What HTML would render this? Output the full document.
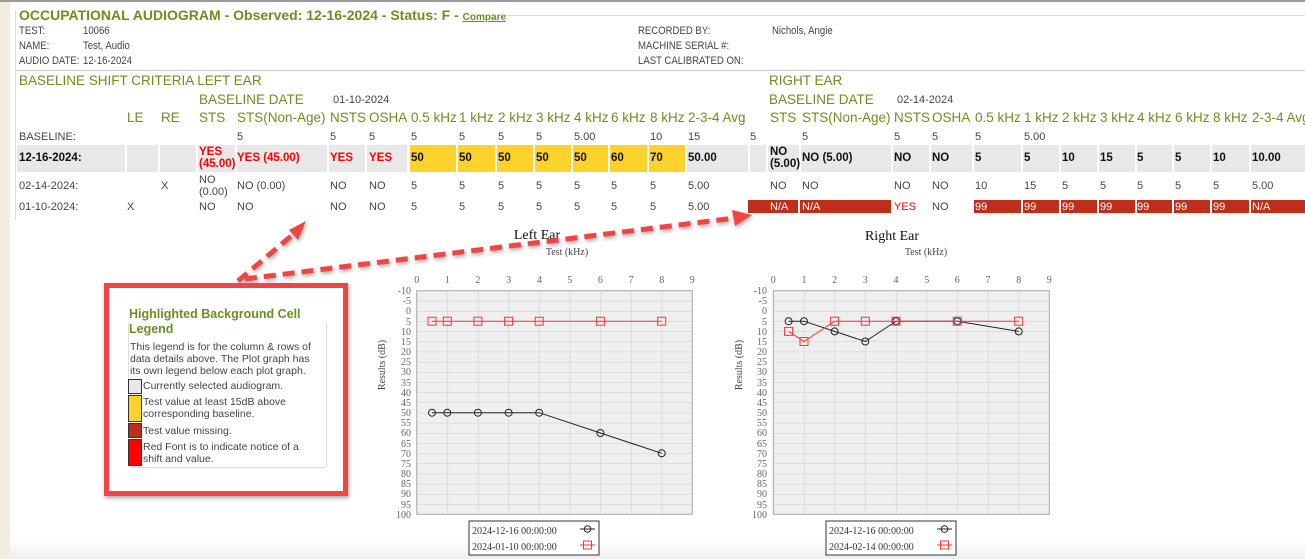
<!DOCTYPE html>
<html><head><meta charset="utf-8"><style>
body{margin:0;width:1305px;height:559px;overflow:hidden;background:#fff;position:relative;font-family:"Liberation Sans",sans-serif;color:#444;}
.t{position:absolute;white-space:nowrap;font-size:11px;line-height:13px;}
.n{transform:scaleX(0.87);transform-origin:left center;}
.g{color:#6a8f1f;font-size:13.5px;line-height:16px;}
.b{font-weight:bold;color:#111;font-size:11.5px;}
.r{color:#f00;}
.w{color:#fff;}
.c{position:absolute;}
</style></head><body>
<div class="c" style="left:0;top:0;width:10px;height:559px;background:#f3ede0"></div>
<div class="c" style="left:0;top:0;width:1305px;height:2px;background:#999"></div>
<div class="c" style="left:10px;top:540px;width:1295px;height:19px;background:linear-gradient(#fff,#eee)"></div>
<div class="c" style="left:505px;top:15px;width:800px;height:1px;background:#ddd"></div>
<div class="c" style="left:15px;top:70px;width:1290px;height:1px;background:#ccc"></div>
<div class="c" style="left:15px;top:10px;width:1px;height:210px;background:#ddd"></div>

<div class="t" style="left:19px;top:7px;font-size:14px;line-height:16px;font-weight:bold;color:#6a8f1f">OCCUPATIONAL AUDIOGRAM - Observed: 12-16-2024 - Status: F - <span style="font-size:10px;text-decoration:underline">Compare</span></div>
<div class="t n" style="left:19px;top:25px">TEST:</div><div class="t n" style="left:83px;top:25px">10066</div>
<div class="t n" style="left:19px;top:40px">NAME:</div><div class="t n" style="left:83px;top:40px">Test, Audio</div>
<div class="t n" style="left:19px;top:55px">AUDIO DATE:</div><div class="t n" style="left:83px;top:55px">12-16-2024</div>
<div class="t n" style="left:638px;top:25px">RECORDED BY:</div><div class="t n" style="left:772px;top:25px">Nichols, Angie</div>
<div class="t n" style="left:638px;top:40px">MACHINE SERIAL #:</div>
<div class="t n" style="left:638px;top:55px">LAST CALIBRATED ON:</div>

<div class="t g" style="left:19px;top:73px">BASELINE SHIFT CRITERIA LEFT EAR</div>
<div class="t g" style="left:769px;top:73px">RIGHT EAR</div>
<div class="t g" style="left:199px;top:92px">BASELINE DATE</div><div class="t" style="left:333px;top:94px">01-10-2024</div>
<div class="t g" style="left:769px;top:92px">BASELINE DATE</div><div class="t" style="left:897px;top:94px">02-14-2024</div>

<div class="t g" style="left:127px;top:110px">LE</div><div class="t g" style="left:161px;top:110px">RE</div>
<div class="t g" style="left:199px;top:110px">STS</div><div class="t g" style="left:237px;top:110px">STS(Non-Age)</div>
<div class="t g" style="left:330px;top:110px">NSTS</div><div class="t g" style="left:369px;top:110px">OSHA</div>
<div class="t g" style="left:411px;top:110px">0.5 kHz</div><div class="t g" style="left:459px;top:110px">1 kHz</div>
<div class="t g" style="left:498px;top:110px">2 kHz</div><div class="t g" style="left:536px;top:110px">3 kHz</div>
<div class="t g" style="left:574px;top:110px">4 kHz</div><div class="t g" style="left:611px;top:110px">6 kHz</div>
<div class="t g" style="left:650px;top:110px">8 kHz</div><div class="t g" style="left:688px;top:110px">2-3-4 Avg</div>
<div class="t g" style="left:770px;top:110px">STS</div><div class="t g" style="left:802px;top:110px">STS(Non-Age)</div>
<div class="t g" style="left:894px;top:110px">NSTS</div><div class="t g" style="left:932px;top:110px">OSHA</div>
<div class="t g" style="left:975px;top:110px">0.5 kHz</div><div class="t g" style="left:1024px;top:110px">1 kHz</div>
<div class="t g" style="left:1062px;top:110px">2 kHz</div><div class="t g" style="left:1100px;top:110px">3 kHz</div>
<div class="t g" style="left:1137px;top:110px">4 kHz</div><div class="t g" style="left:1175px;top:110px">6 kHz</div>
<div class="t g" style="left:1213px;top:110px">8 kHz</div><div class="t g" style="left:1252px;top:110px">2-3-4 Avg</div>

<div class="t" style="left:19px;top:131px">BASELINE:</div>
<div class="t" style="left:237px;top:131px">5</div><div class="t" style="left:330px;top:131px">5</div><div class="t" style="left:369px;top:131px">5</div>
<div class="t" style="left:411px;top:131px">5</div><div class="t" style="left:459px;top:131px">5</div><div class="t" style="left:498px;top:131px">5</div>
<div class="t" style="left:536px;top:131px">5</div><div class="t" style="left:574px;top:131px">5.00</div>
<div class="t" style="left:650px;top:131px">10</div><div class="t" style="left:688px;top:131px">15</div><div class="t" style="left:750px;top:131px">5</div>
<div class="t" style="left:802px;top:131px">5</div><div class="t" style="left:894px;top:131px">5</div><div class="t" style="left:932px;top:131px">5</div>
<div class="t" style="left:975px;top:131px">5</div><div class="t" style="left:1024px;top:131px">5.00</div>

<div class="c" style="top:145px;height:27px;left:17px;width:108px;background:#e8e8e8"></div>
<div class="c" style="top:145px;height:27px;left:127px;width:31px;background:#e8e8e8"></div>
<div class="c" style="top:145px;height:27px;left:160px;width:36px;background:#e8e8e8"></div>
<div class="c" style="top:145px;height:27px;left:198px;width:37px;background:#e8e8e8"></div>
<div class="c" style="top:145px;height:27px;left:237px;width:90px;background:#e8e8e8"></div>
<div class="c" style="top:145px;height:27px;left:329px;width:36px;background:#e8e8e8"></div>
<div class="c" style="top:145px;height:27px;left:367px;width:40px;background:#e8e8e8"></div>
<div class="c" style="top:145px;height:27px;left:410px;width:46px;background:#fdd22c"></div>
<div class="c" style="top:145px;height:27px;left:458px;width:37px;background:#fdd22c"></div>
<div class="c" style="top:145px;height:27px;left:497px;width:36px;background:#fdd22c"></div>
<div class="c" style="top:145px;height:27px;left:535px;width:36px;background:#fdd22c"></div>
<div class="c" style="top:145px;height:27px;left:573px;width:35px;background:#fdd22c"></div>
<div class="c" style="top:145px;height:27px;left:610px;width:37px;background:#fdd22c"></div>
<div class="c" style="top:145px;height:27px;left:649px;width:36px;background:#fdd22c"></div>
<div class="c" style="top:145px;height:27px;left:687px;width:61px;background:#e8e8e8"></div>
<div class="c" style="top:145px;height:27px;left:750px;width:16px;background:#e8e8e8"></div>
<div class="c" style="top:145px;height:27px;left:768px;width:31px;background:#e8e8e8"></div>
<div class="c" style="top:145px;height:27px;left:801px;width:90px;background:#e8e8e8"></div>
<div class="c" style="top:145px;height:27px;left:893px;width:36px;background:#e8e8e8"></div>
<div class="c" style="top:145px;height:27px;left:931px;width:41px;background:#e8e8e8"></div>
<div class="c" style="top:145px;height:27px;left:974px;width:47px;background:#e8e8e8"></div>
<div class="c" style="top:145px;height:27px;left:1023px;width:36px;background:#e8e8e8"></div>
<div class="c" style="top:145px;height:27px;left:1061px;width:36px;background:#e8e8e8"></div>
<div class="c" style="top:145px;height:27px;left:1099px;width:36px;background:#e8e8e8"></div>
<div class="c" style="top:145px;height:27px;left:1137px;width:35px;background:#e8e8e8"></div>
<div class="c" style="top:145px;height:27px;left:1174px;width:36px;background:#e8e8e8"></div>
<div class="c" style="top:145px;height:27px;left:1212px;width:37px;background:#e8e8e8"></div>
<div class="c" style="top:145px;height:27px;left:1251px;width:54px;background:#e8e8e8"></div>

<div class="t b" style="left:19px;top:152px">12-16-2024:</div>
<div class="t b r" style="left:199px;top:146px;line-height:12px">YES<br>(45.00)</div>
<div class="t b r" style="left:237px;top:152px">YES (45.00)</div>
<div class="t b r" style="left:330px;top:152px">YES</div><div class="t b r" style="left:369px;top:152px">YES</div>
<div class="t b" style="left:411px;top:152px">50</div><div class="t b" style="left:459px;top:152px">50</div>
<div class="t b" style="left:498px;top:152px">50</div><div class="t b" style="left:536px;top:152px">50</div>
<div class="t b" style="left:574px;top:152px">50</div><div class="t b" style="left:611px;top:152px">60</div>
<div class="t b" style="left:650px;top:152px">70</div><div class="t b" style="left:688px;top:152px">50.00</div>
<div class="t b" style="left:770px;top:146px;line-height:12px">NO<br>(5.00)</div>
<div class="t b" style="left:802px;top:152px">NO (5.00)</div>
<div class="t b" style="left:894px;top:152px">NO</div><div class="t b" style="left:932px;top:152px">NO</div>
<div class="t b" style="left:975px;top:152px">5</div><div class="t b" style="left:1024px;top:152px">5</div>
<div class="t b" style="left:1062px;top:152px">10</div><div class="t b" style="left:1100px;top:152px">15</div>
<div class="t b" style="left:1137px;top:152px">5</div><div class="t b" style="left:1175px;top:152px">5</div>
<div class="t b" style="left:1213px;top:152px">10</div><div class="t b" style="left:1252px;top:152px">10.00</div>

<div class="t" style="left:19px;top:180px">02-14-2024:</div>
<div class="t" style="left:161px;top:180px">X</div>
<div class="t" style="left:199px;top:174px;line-height:12px">NO<br>(0.00)</div>
<div class="t" style="left:237px;top:180px">NO (0.00)</div>
<div class="t" style="left:330px;top:180px">NO</div><div class="t" style="left:369px;top:180px">NO</div>
<div class="t" style="left:411px;top:180px">5</div><div class="t" style="left:459px;top:180px">5</div><div class="t" style="left:498px;top:180px">5</div>
<div class="t" style="left:536px;top:180px">5</div><div class="t" style="left:574px;top:180px">5</div><div class="t" style="left:611px;top:180px">5</div>
<div class="t" style="left:650px;top:180px">5</div><div class="t" style="left:688px;top:180px">5.00</div>
<div class="t" style="left:770px;top:180px">NO</div><div class="t" style="left:802px;top:180px">NO</div>
<div class="t" style="left:894px;top:180px">NO</div><div class="t" style="left:932px;top:180px">NO</div>
<div class="t" style="left:975px;top:180px">10</div><div class="t" style="left:1024px;top:180px">15</div>
<div class="t" style="left:1062px;top:180px">5</div><div class="t" style="left:1100px;top:180px">5</div>
<div class="t" style="left:1137px;top:180px">5</div><div class="t" style="left:1175px;top:180px">5</div>
<div class="t" style="left:1213px;top:180px">5</div><div class="t" style="left:1252px;top:180px">5.00</div>

<div class="c" style="top:200px;height:13px;left:748px;width:50px;background:#bf2e1a"></div>
<div class="c" style="top:200px;height:13px;left:800px;width:91px;background:#bf2e1a"></div>
<div class="c" style="top:200px;height:13px;left:974px;width:47px;background:#bf2e1a"></div>
<div class="c" style="top:200px;height:13px;left:1023px;width:36px;background:#bf2e1a"></div>
<div class="c" style="top:200px;height:13px;left:1061px;width:36px;background:#bf2e1a"></div>
<div class="c" style="top:200px;height:13px;left:1099px;width:36px;background:#bf2e1a"></div>
<div class="c" style="top:200px;height:13px;left:1137px;width:35px;background:#bf2e1a"></div>
<div class="c" style="top:200px;height:13px;left:1174px;width:36px;background:#bf2e1a"></div>
<div class="c" style="top:200px;height:13px;left:1212px;width:37px;background:#bf2e1a"></div>
<div class="c" style="top:200px;height:13px;left:1251px;width:54px;background:#bf2e1a"></div>
<div class="t" style="left:19px;top:201px">01-10-2024:</div>
<div class="t" style="left:127px;top:201px">X</div>
<div class="t" style="left:199px;top:201px">NO</div><div class="t" style="left:237px;top:201px">NO</div>
<div class="t" style="left:330px;top:201px">NO</div><div class="t" style="left:369px;top:201px">NO</div>
<div class="t" style="left:411px;top:201px">5</div><div class="t" style="left:459px;top:201px">5</div><div class="t" style="left:498px;top:201px">5</div>
<div class="t" style="left:536px;top:201px">5</div><div class="t" style="left:574px;top:201px">5</div><div class="t" style="left:611px;top:201px">5</div>
<div class="t" style="left:650px;top:201px">5</div><div class="t" style="left:688px;top:201px">5.00</div>
<div class="t w" style="left:770px;top:201px">N/A</div><div class="t w" style="left:802px;top:201px">N/A</div>
<div class="t r" style="left:894px;top:201px">YES</div><div class="t" style="left:932px;top:201px">NO</div>
<div class="t w" style="left:975px;top:201px">99</div><div class="t w" style="left:1024px;top:201px">99</div>
<div class="t w" style="left:1062px;top:201px">99</div><div class="t w" style="left:1100px;top:201px">99</div>
<div class="t w" style="left:1137px;top:201px">99</div><div class="t w" style="left:1175px;top:201px">99</div>
<div class="t w" style="left:1213px;top:201px">99</div><div class="t w" style="left:1252px;top:201px">N/A</div>

<svg class="c" style="left:0;top:0" width="1305" height="559" font-family="Liberation Serif, serif">
<defs>
<pattern id="gl" x="416.7" y="290.7" width="30.62" height="10.164" patternUnits="userSpaceOnUse"><rect width="30.62" height="10.164" fill="#efefef"/><path d="M0 0V10.164M0 0H30.62" stroke="#ccc" stroke-width="1"/></pattern>
<pattern id="gr" x="773.3" y="290.7" width="30.67" height="10.164" patternUnits="userSpaceOnUse"><rect width="30.67" height="10.164" fill="#efefef"/><path d="M0 0V10.164M0 0H30.67" stroke="#ccc" stroke-width="1"/></pattern>
<filter id="sh" x="-10%" y="-10%" width="120%" height="120%"><feDropShadow dx="1" dy="2" stdDeviation="2" flood-color="#000" flood-opacity="0.35"/></filter>
</defs>
<text x="537" y="239" font-size="14" fill="#111" text-anchor="middle">Left Ear</text>
<text x="567" y="255" font-size="10" fill="#444" text-anchor="middle">Test (kHz)</text>
<rect x="416.7" y="290.7" width="275.6" height="223.6" fill="url(#gl)" stroke="#aaa"/>
<g font-size="10" fill="#666" text-anchor="middle">
<text x="416.7" y="283">0</text><text x="447.3" y="283">1</text><text x="477.9" y="283">2</text><text x="508.6" y="283">3</text><text x="539.2" y="283">4</text><text x="569.8" y="283">5</text><text x="600.4" y="283">6</text><text x="631.1" y="283">7</text><text x="661.7" y="283">8</text><text x="692.3" y="283">9</text>
</g>
<g font-size="10" fill="#666" text-anchor="end">
<text x="411" y="294">-10</text><text x="411" y="304">-5</text><text x="411" y="314">0</text><text x="411" y="325">5</text><text x="411" y="335">10</text><text x="411" y="345">15</text><text x="411" y="355">20</text><text x="411" y="365">25</text><text x="411" y="375">30</text><text x="411" y="386">35</text><text x="411" y="396">40</text><text x="411" y="406">45</text><text x="411" y="416">50</text><text x="411" y="426">55</text><text x="411" y="436">60</text><text x="411" y="447">65</text><text x="411" y="457">70</text><text x="411" y="467">75</text><text x="411" y="477">80</text><text x="411" y="487">85</text><text x="411" y="497">90</text><text x="411" y="508">95</text><text x="411" y="518">100</text>
</g>
<text transform="translate(385,365) rotate(-90)" font-size="10" fill="#444" text-anchor="middle">Results (dB)</text>
<polyline points="432,321.2 447.3,321.2 477.9,321.2 508.6,321.2 539.2,321.2 600.4,321.2 661.7,321.2" fill="none" stroke="#f33" stroke-width="1"/>
<g fill="none" stroke="#f33"><rect x="428" y="317.2" width="8" height="8"/><rect x="443.3" y="317.2" width="8" height="8"/><rect x="473.9" y="317.2" width="8" height="8"/><rect x="504.6" y="317.2" width="8" height="8"/><rect x="535.2" y="317.2" width="8" height="8"/><rect x="596.4" y="317.2" width="8" height="8"/><rect x="657.7" y="317.2" width="8" height="8"/></g>
<polyline points="432,412.7 447.3,412.7 477.9,412.7 508.6,412.7 539.2,412.7 600.4,433 661.7,453.3" fill="none" stroke="#222" stroke-width="1"/>
<g fill="none" stroke="#222"><circle cx="432" cy="412.7" r="3.5"/><circle cx="447.3" cy="412.7" r="3.5"/><circle cx="477.9" cy="412.7" r="3.5"/><circle cx="508.6" cy="412.7" r="3.5"/><circle cx="539.2" cy="412.7" r="3.5"/><circle cx="600.4" cy="433" r="3.5"/><circle cx="661.7" cy="453.3" r="3.5"/></g>
<rect x="469" y="521" width="130" height="34" fill="#fff" stroke="#333"/>
<text x="472" y="534" font-size="10" fill="#333">2024-12-16 00:00:00</text>
<text x="472" y="550" font-size="10" fill="#333">2024-01-10 00:00:00</text>
<line x1="580" y1="529" x2="595" y2="529" stroke="#222"/><circle cx="587.5" cy="529" r="3.3" fill="none" stroke="#222"/>
<line x1="580" y1="545" x2="595" y2="545" stroke="#f33"/><rect x="583.5" y="541" width="8" height="8" fill="none" stroke="#f33"/>

<text x="892" y="240" font-size="14" fill="#111" text-anchor="middle">Right Ear</text>
<text x="926" y="255" font-size="10" fill="#444" text-anchor="middle">Test (kHz)</text>
<rect x="773.3" y="290.7" width="276" height="223.6" fill="url(#gr)" stroke="#aaa"/>
<g font-size="10" fill="#666" text-anchor="middle">
<text x="773.3" y="283">0</text><text x="804" y="283">1</text><text x="834.6" y="283">2</text><text x="865.3" y="283">3</text><text x="896" y="283">4</text><text x="926.7" y="283">5</text><text x="957.3" y="283">6</text><text x="988" y="283">7</text><text x="1018.7" y="283">8</text><text x="1049.3" y="283">9</text>
</g>
<g font-size="10" fill="#666" text-anchor="end">
<text x="767" y="294">-10</text><text x="767" y="304">-5</text><text x="767" y="314">0</text><text x="767" y="325">5</text><text x="767" y="335">10</text><text x="767" y="345">15</text><text x="767" y="355">20</text><text x="767" y="365">25</text><text x="767" y="375">30</text><text x="767" y="386">35</text><text x="767" y="396">40</text><text x="767" y="406">45</text><text x="767" y="416">50</text><text x="767" y="426">55</text><text x="767" y="436">60</text><text x="767" y="447">65</text><text x="767" y="457">70</text><text x="767" y="467">75</text><text x="767" y="477">80</text><text x="767" y="487">85</text><text x="767" y="497">90</text><text x="767" y="508">95</text><text x="767" y="518">100</text>
</g>
<text transform="translate(742,365) rotate(-90)" font-size="10" fill="#444" text-anchor="middle">Results (dB)</text>
<polyline points="788.6,321.2 804,321.2 834.6,331.4 865.3,341.5 896,321.2 957.3,321.2 1018.7,331.4" fill="none" stroke="#222"/>
<g fill="none" stroke="#222"><circle cx="788.6" cy="321.2" r="3.5"/><circle cx="804" cy="321.2" r="3.5"/><circle cx="834.6" cy="331.4" r="3.5"/><circle cx="865.3" cy="341.5" r="3.5"/><circle cx="896" cy="321.2" r="3.5"/><circle cx="957.3" cy="321.2" r="3.5"/><circle cx="1018.7" cy="331.4" r="3.5"/></g>
<polyline points="788.6,331.4 804,341.5 834.6,321.2 865.3,321.2 896,321.2 957.3,321.2 1018.7,321.2" fill="none" stroke="#f33"/>
<g fill="none" stroke="#f33"><rect x="784.6" y="327.4" width="8" height="8"/><rect x="800" y="337.5" width="8" height="8"/><rect x="830.6" y="317.2" width="8" height="8"/><rect x="861.3" y="317.2" width="8" height="8"/><rect x="892" y="317.2" width="8" height="8"/><rect x="953.3" y="317.2" width="8" height="8"/><rect x="1014.7" y="317.2" width="8" height="8"/></g>
<rect x="826" y="521" width="130" height="34" fill="#fff" stroke="#333"/>
<text x="829" y="534" font-size="10" fill="#333">2024-12-16 00:00:00</text>
<text x="829" y="550" font-size="10" fill="#333">2024-02-14 00:00:00</text>
<line x1="937" y1="529" x2="952" y2="529" stroke="#222"/><circle cx="944.5" cy="529" r="3.3" fill="none" stroke="#222"/>
<line x1="937" y1="545" x2="952" y2="545" stroke="#f33"/><rect x="940.5" y="541" width="8" height="8" fill="none" stroke="#f33"/>

<g filter="url(#sh)">
<g stroke="#f04545" stroke-width="5" stroke-dasharray="12,7" fill="none">
<line x1="238" y1="281" x2="296" y2="232"/>
<line x1="245" y1="279" x2="735" y2="218"/>
</g>
<polygon points="306,221 289,230 298,240" fill="#f04545"/>
<polygon points="752,215 732,210 735,226" fill="#f04545"/>
<rect x="106.5" y="285.5" width="239" height="208" fill="#fff" stroke="#f04545" stroke-width="5"/>
</g>
</svg>

<div class="c" style="left:128px;top:322px;width:197px;height:145px;border:1px solid #ddd;border-top:none;border-radius:0 0 3px 3px"></div>
<div class="t" style="left:129px;top:307px;font-size:12.5px;line-height:15px;font-weight:bold;color:#6a8f1f;white-space:normal;width:200px">Highlighted Background Cell Legend</div>
<div class="t" style="left:130px;top:341px;font-size:10.5px;line-height:12px;white-space:normal;width:190px">This legend is for the column &amp; rows of data details above. The Plot graph has its own legend below each plot graph.</div>
<div class="c" style="left:128px;top:379px;width:12px;height:13px;background:#e8e8e8;border:1px solid #333"></div>
<div class="t" style="left:143px;top:380px;font-size:10.5px">Currently selected audiogram.</div>
<div class="c" style="left:128px;top:395px;width:12px;height:25px;background:#fdd22c;border:1px solid #333"></div>
<div class="t" style="left:143px;top:396px;font-size:10.5px;line-height:12px">Test value at least 15dB above<br>corresponding baseline.</div>
<div class="c" style="left:128px;top:423px;width:12px;height:13px;background:#bf2e1a;border:1px solid #333"></div>
<div class="t" style="left:143px;top:425px;font-size:10.5px">Test value missing.</div>
<div class="c" style="left:128px;top:439px;width:12px;height:25px;background:#f00;border:1px solid #333"></div>
<div class="t" style="left:143px;top:441px;font-size:10.5px;line-height:12px">Red Font is to indicate notice of a<br>shift and value.</div>
</body></html>
